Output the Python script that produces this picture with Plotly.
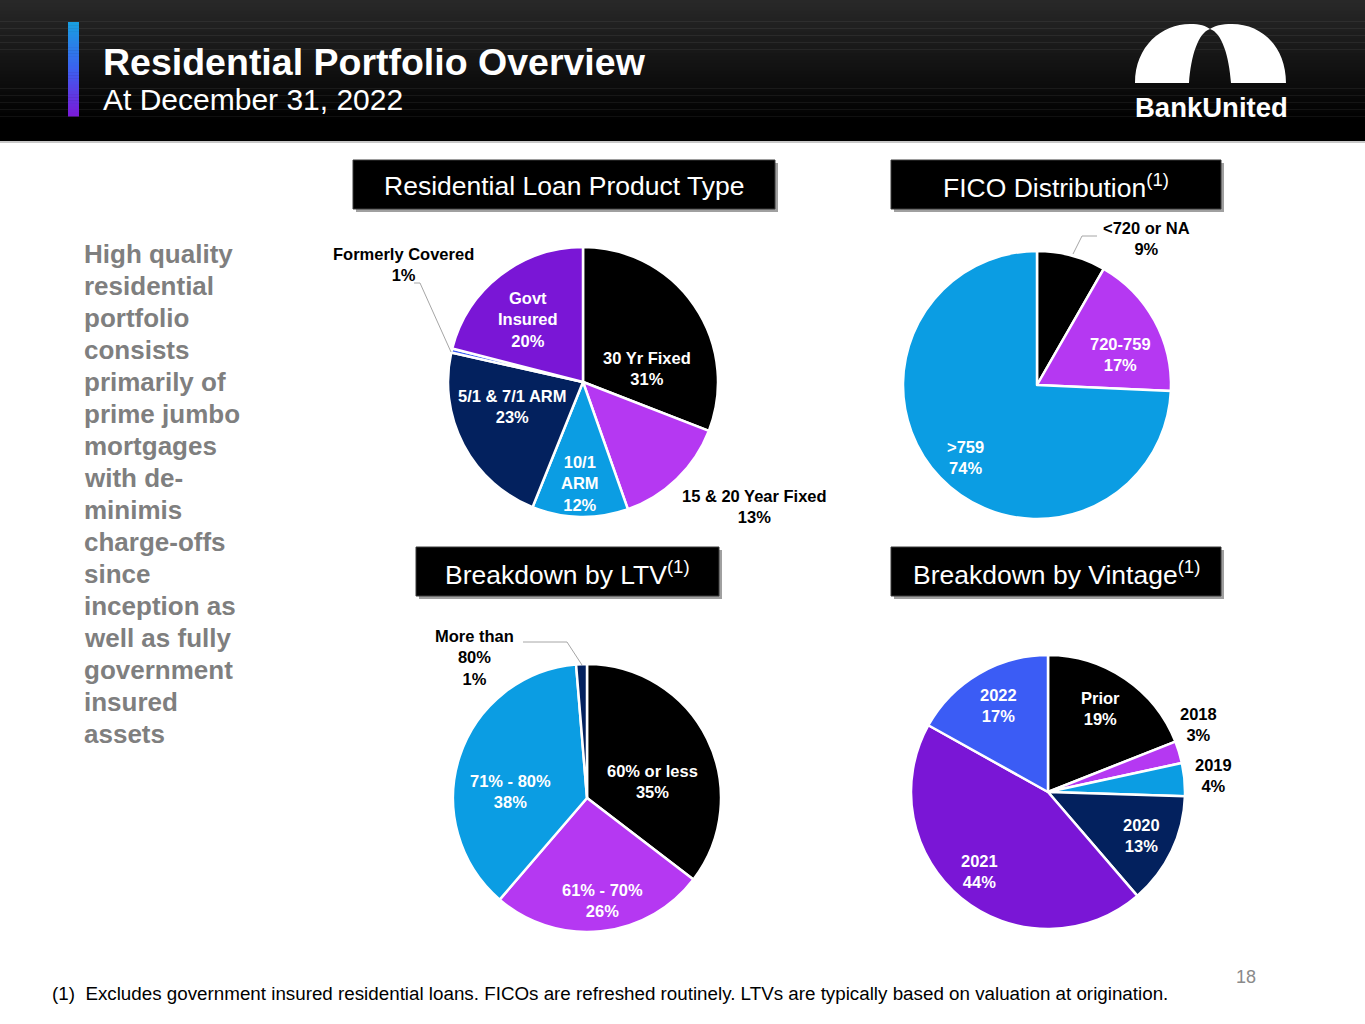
import plotly.graph_objects as go

W, H = 1365, 1024

# ---------------- data ----------------
product_labels = ["30 Yr Fixed", "15 & 20 Year Fixed", "10/1<br>ARM", "5/1 & 7/1 ARM", "Formerly Covered", "Govt<br>Insured"]
product_values = [30.9, 13.7, 11.5, 22.4, 0.5, 21.0]
product_pct = ["31%", "13%", "12%", "23%", "1%", "20%"]

fico_labels = ["<720 or NA", "720-759", ">759"]
fico_values = [8.3, 17.4, 74.3]
fico_pct = ["9%", "17%", "74%"]

ltv_labels = ["60% or less", "61% - 70%", "71% - 80%", "More than<br>80%"]
ltv_values = [35.4, 25.9, 37.4, 1.3]
ltv_pct = ["35%", "26%", "38%", "1%"]

vintage_labels = ["Prior", "2018", "2019", "2020", "2021", "2022"]
vintage_values = [19.0, 2.6, 3.9, 13.2, 44.4, 16.9]
vintage_pct = ["19%", "3%", "4%", "13%", "44%", "17%"]

side_text = ["High quality", "residential", "portfolio", "consists", "primarily of",
             "prime jumbo", "mortgages", "with de-", "minimis", "charge-offs",
             "since", "inception as", "well as fully", "government", "insured", "assets"]

footnote = "(1)  Excludes government insured residential loans. FICOs are refreshed routinely. LTVs are typically based on valuation at origination."

# ---------------- styles ----------------
BLACK = "#000000"
MAGENTA = "#B538F2"
SKY = "#0B9DE3"
NAVY = "#03215E"
VIOLET = "#7A16D6"
ROYAL = "#3B5CF5"
FONT = "Arial, Liberation Sans, sans-serif"

def px(x):
    return x / W

def py(y):
    return 1 - y / H

def dom(cx, cy, r):
    return dict(x=[px(cx - r), px(cx + r)], y=[py(cy + r), py(cy - r)])

fig = go.Figure()

pies = [
    (product_labels, product_values, [BLACK, MAGENTA, SKY, NAVY, ROYAL, VIOLET], (583, 382, 135)),
    (fico_labels, fico_values, [BLACK, MAGENTA, SKY], (1037, 385, 134)),
    (ltv_labels, ltv_values, [BLACK, MAGENTA, SKY, NAVY], (587, 798, 134)),
    (vintage_labels, vintage_values, [BLACK, MAGENTA, SKY, NAVY, VIOLET, ROYAL], (1048, 792, 137)),
]
for labels, values, colors, (cx, cy, r) in pies:
    fig.add_trace(go.Pie(
        labels=labels, values=values, sort=False, direction="clockwise", rotation=0,
        marker=dict(colors=colors, line=dict(color="white", width=2.5)),
        textinfo="none", hoverinfo="skip", showlegend=False,
        domain=dom(cx, cy, r),
    ))

shapes = []
annotations = []

# header gradient
n = 40
for i in range(n):
    y0 = 141 * i / n
    y1 = 141 * (i + 1) / n + 0.5
    t = min(1.0, (i / n) / 0.85)
    v = int(round(40 * (1 - t)))
    shapes.append(dict(type="rect", xref="paper", yref="paper", x0=0, x1=1, y0=py(y1), y1=py(y0),
                       fillcolor=f"rgb({v},{v},{v})", line=dict(width=0), layer="below"))
shapes.append(dict(type="line", xref="paper", yref="paper", x0=0, x1=1, y0=py(142), y1=py(142),
                   line=dict(color="#c8c8c8", width=2)))

# accent bar gradient
m = 30
stops = [(0.0, (24, 160, 224)), (0.5, (60, 96, 240)), (1.0, (122, 26, 216))]
def lerp_color(t):
    for (t0, c0), (t1, c1) in zip(stops[:-1], stops[1:]):
        if t <= t1:
            f = (t - t0) / (t1 - t0)
            return "rgb(%d,%d,%d)" % tuple(int(round(a + (b - a) * f)) for a, b in zip(c0, c1))
    return "rgb(%d,%d,%d)" % stops[-1][1]
for i in range(m):
    y0 = 22 + (116 - 22) * i / m
    y1 = 22 + (116 - 22) * (i + 1) / m + 0.5
    shapes.append(dict(type="rect", xref="paper", yref="paper", x0=px(68), x1=px(79), y0=py(y1), y1=py(y0),
                       fillcolor=lerp_color((i + 0.5) / m), line=dict(width=0)))

# logo arch
def P(x, y):
    return f"{px(x):.5f},{py(y):.5f}"
logo = ("M " + P(1135, 83) +
        " C " + P(1135, 46) + " " + P(1162, 24) + " " + P(1190, 24) +
        " C " + P(1200, 24) + " " + P(1206, 26) + " " + P(1210, 29) +
        " C " + P(1214, 26) + " " + P(1222, 24) + " " + P(1232, 24) +
        " C " + P(1261, 24) + " " + P(1286, 46) + " " + P(1286, 83) +
        " L " + P(1231, 83) +
        " C " + P(1229, 56) + " " + P(1222, 33) + " " + P(1210, 29) +
        " C " + P(1198, 33) + " " + P(1191, 56) + " " + P(1189, 83) + " Z")
shapes.append(dict(type="path", xref="paper", yref="paper", path=logo,
                   fillcolor="white", line=dict(width=0)))

annotations.append(dict(x=px(1211), y=py(107), xref="paper", yref="paper", text="<b>BankUnited</b>",
                        showarrow=False, xanchor="center", yanchor="middle",
                        font=dict(family=FONT, size=27.5, color="white")))
annotations.append(dict(x=px(101), y=py(62), xref="paper", yref="paper", text="<b>Residential Portfolio Overview</b>",
                        showarrow=False, xanchor="left", yanchor="middle",
                        font=dict(family=FONT, size=37.5, color="white")))
annotations.append(dict(x=px(101), y=py(99), xref="paper", yref="paper", text="At December 31, 2022",
                        showarrow=False, xanchor="left", yanchor="middle",
                        font=dict(family=FONT, size=30, color="white")))

# section boxes
boxes = [
    ("Residential Loan Product Type", 353, 775, 160, 209),
    ("FICO Distribution<sup>(1)</sup>", 891, 1221, 160, 209),
    ("Breakdown by LTV<sup>(1)</sup>", 416, 719, 547, 596),
    ("Breakdown by Vintage<sup>(1)</sup>", 891, 1221, 547, 596),
]
for text, x0, x1, y0, y1 in boxes:
    shapes.append(dict(type="rect", xref="paper", yref="paper", x0=px(x0 + 3), x1=px(x1 + 3),
                       y0=py(y1 + 3), y1=py(y0 + 3), fillcolor="#a0a0a0", line=dict(width=0)))
    shapes.append(dict(type="rect", xref="paper", yref="paper", x0=px(x0), x1=px(x1),
                       y0=py(y1), y1=py(y0), fillcolor="#000000", line=dict(color="#3a3a3a", width=1)))
    annotations.append(dict(x=px((x0 + x1) / 2), y=py((y0 + y1) / 2 + 1), xref="paper", yref="paper",
                            text=text, showarrow=False, xanchor="center", yanchor="middle",
                            font=dict(family=FONT, size=26.5, color="white")))

# pie labels (text positions in pixels)
def lab(x, y, name, pct, color):
    annotations.append(dict(x=px(x), y=py(y), xref="paper", yref="paper",
                            text=f"<b>{name}<br>{pct}</b>", showarrow=False, align="center",
                            xanchor="center", yanchor="middle",
                            font=dict(family=FONT, size=16.5, color=color)))

prod_pos = [(647, 368, "white"), (754, 506, "black"), (580, 483, "white"),
            (512, 406, "white"), (403, 264, "black"), (528, 319, "white")]
for (x, y, c), n_, p_ in zip(prod_pos, product_labels, product_pct):
    lab(x, y, n_, p_, c)

fico_pos = [(1146, 238, "black"), (1120, 354, "white"), (965, 457, "white")]
for (x, y, c), n_, p_ in zip(fico_pos, fico_labels, fico_pct):
    lab(x, y, n_, p_, c)

ltv_pos = [(652, 781, "white"), (602, 900, "white"), (510, 791, "white"), (474, 657, "black")]
for (x, y, c), n_, p_ in zip(ltv_pos, ltv_labels, ltv_pct):
    lab(x, y, n_, p_, c)

vint_pos = [(1100, 708, "white"), (1198, 724, "black"), (1213, 775, "black"),
            (1141, 835, "white"), (979, 871, "white"), (999, 705, "white")]
for (x, y, c), n_, p_ in zip(vint_pos, vintage_labels, vintage_pct):
    lab(x, y, n_, p_, c)

# leader lines
leaders = [
    [(451, 352), (420, 283), (414, 283)],
    [(1073, 254), (1082, 236), (1097, 236)],
    [(582, 665), (567, 642), (523, 642)],
]
for pts in leaders:
    for (xa, ya), (xb, yb) in zip(pts[:-1], pts[1:]):
        shapes.append(dict(type="line", xref="paper", yref="paper", x0=px(xa), y0=py(ya), x1=px(xb), y1=py(yb),
                           line=dict(color="#a6a6a6", width=1)))

# side text
for i, line in enumerate(side_text):
    annotations.append(dict(x=px(82), y=py(254 + 32 * i), xref="paper", yref="paper",
                            text=f"<b>{line}</b>", showarrow=False, xanchor="left", yanchor="middle",
                            font=dict(family=FONT, size=26, color="#7f7f7f")))

# footnote and page number
annotations.append(dict(x=px(50), y=py(993), xref="paper", yref="paper", text=footnote,
                        showarrow=False, xanchor="left", yanchor="middle",
                        font=dict(family=FONT, size=18.8, color="#000000")))
annotations.append(dict(x=px(1246), y=py(977), xref="paper", yref="paper", text="18",
                        showarrow=False, xanchor="center", yanchor="middle",
                        font=dict(family=FONT, size=18, color="#8a8a8a")))

fig.update_layout(
    width=W, height=H, autosize=False,
    margin=dict(l=0, r=0, t=0, b=0),
    paper_bgcolor="white", plot_bgcolor="white",
    shapes=shapes, annotations=annotations,
    hovermode=False, showlegend=False,
)

fig.write_html("out.html", config={"displayModeBar": False},
               post_script="document.body.style.margin='0';document.body.style.overflow='hidden';")
